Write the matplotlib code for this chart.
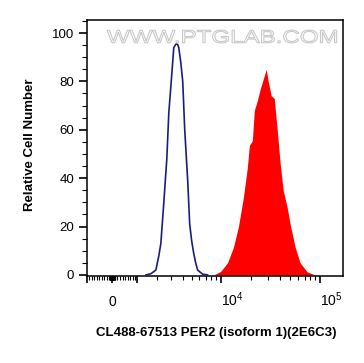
import numpy as np
import matplotlib
matplotlib.use("Agg")
import matplotlib.pyplot as plt
from matplotlib.ticker import FixedLocator, MultipleLocator
from matplotlib.textpath import TextPath
from matplotlib.patches import PathPatch
from matplotlib.font_manager import FontProperties
from matplotlib.transforms import Affine2D

plt.rcParams['font.family'] = ['Liberation Sans', 'DejaVu Sans']

# histogramme contrôle (contour bleu), intensité de fluorescence
blue_x = [1408, 1665, 1944, 2124, 2249, 2446, 2655, 2802, 3033, 3195, 3364,
          3450, 3538, 3629, 3816, 4011, 4215, 4537, 4764, 5002, 5249, 5507,
          5776, 6507, 7322]
blue_y = [0, 0.5, 2, 8, 13, 30, 48, 67, 83, 94, 95.3,
          95.5, 95.2, 94, 88, 80, 60, 39, 21, 14, 9, 5,
          2, 0.3, 0]

# histogramme marqué (rempli rouge)
red_x = [8436, 9935, 11700, 13450, 15100, 16940, 18590, 19460, 20860, 21840,
         23400, 25090, 26890, 28820, 30170, 32350, 34660, 37140, 39800, 42650,
         46760, 50120, 56230, 63100, 74140, 89090]
red_y = [0, 1.4, 5, 11.5, 20, 32, 44.5, 53.5, 55.5, 68,
         72, 77, 81, 85, 80, 74, 73, 60, 46, 35,
         28, 21, 11.5, 5, 1.3, 0]

x_ticks = [-1000, 0, 1000, 1e4, 1e5]
x_ticklabels = ['', '0', '', r'$\mathregular{10^{4}}$', r'$\mathregular{10^{5}}$']
x_minor = ([s * v for s in (-1, 1) for v in range(10, 100, 10)] +
           [s * v for s in (-1, 1) for v in range(100, 1000, 100)] +
           list(range(2000, 10000, 1000)) + list(range(20000, 100000, 10000)))

C = 1626.0
def fwd(x):
    return np.arcsinh(np.asarray(x) / C) / np.log(10)
def inv(u):
    return C * np.sinh(np.asarray(u) * np.log(10))

fig = plt.figure(figsize=(3.64, 3.63), dpi=100)
ax = fig.add_axes([0.239, 0.240, 0.703, 0.705])
ax.set_xscale('function', functions=(fwd, inv))

ax.fill_between(red_x, red_y, 0, color='#ff0000', lw=0, zorder=2)
ax.plot(blue_x, blue_y, color='#1c1c80', lw=1.2, zorder=3)

ax.set_xlim(-1000, 1.7e5)
ax.set_ylim(-0.4, 105.4)

ax.xaxis.set_major_locator(FixedLocator(x_ticks))
ax.xaxis.set_minor_locator(FixedLocator(x_minor))
ax.set_xticklabels(x_ticklabels)
ax.yaxis.set_major_locator(MultipleLocator(20))
ax.yaxis.set_minor_locator(MultipleLocator(5))

ax.tick_params(axis='x', which='major', length=5, width=1.2, pad=17, labelsize=10)
ax.tick_params(axis='x', which='minor', length=3.2, width=0.8)
ax.tick_params(axis='y', which='major', length=5.8, width=1.2, pad=3.5, labelsize=9.5)
ax.tick_params(axis='y', which='minor', length=3.6, width=0.8)
for lbl in ax.get_xticklabels():
    lbl.set_va('baseline')
    if lbl.get_text().startswith('$'):
        lbl.set_ha('left')
for sp in ax.spines.values():
    sp.set_linewidth(1.1)

ax.set_xlabel('CL488-67513 PER2 (isoform 1)(2E6C3)', fontsize=9.5, fontweight='bold')
ax.xaxis.set_label_coords(0.504, -0.200)
ax.set_ylabel('Relative Cell Number', fontsize=9.5, fontweight='bold')
ax.yaxis.set_label_coords(-0.200, 0.512)

# filigrane
tp = TextPath((0, 0), 'WWW.PTGLAB.COM', size=1,
              prop=FontProperties(family='Liberation Sans'))
wm = PathPatch(tp, facecolor='white', edgecolor='#c8c8c8', lw=0.8, zorder=5,
               transform=Affine2D().scale(0.0942, 0.0709).translate(0.078, 0.911) + ax.transAxes)
ax.add_patch(wm)

fig.savefig('out.png', dpi=100)
